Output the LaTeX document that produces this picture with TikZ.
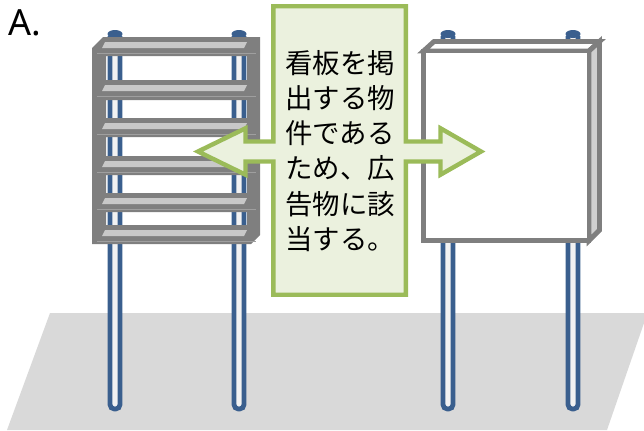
\documentclass[tikz,border=0pt]{standalone}
\usepackage{fontspec}
\newfontfamily\jpfont{Noto Sans CJK JP}
\newfontfamily\labelfont{Noto Sans}
\definecolor{postblue}{HTML}{3A5F8E}
\definecolor{postwhite}{HTML}{F2F2F2}
\definecolor{boardgray}{HTML}{7F7F7F}
\definecolor{slatgray}{HTML}{C8C8C8}
\definecolor{sidegray}{HTML}{D0D0D0}
\definecolor{groundgray}{HTML}{D9D9D9}
\definecolor{calloutgreen}{HTML}{9BBB59}
\definecolor{calloutfill}{HTML}{EBF1DE}
\begin{document}
\begin{tikzpicture}[x=0.02cm,y=-0.02cm,
    post/.style={draw=postblue,line width=2.7pt,fill=postwhite,rounded corners=2.5pt},
    box/.style={draw=boardgray,line width=2.8pt,fill=#1},
    callout/.style={draw=calloutgreen,line width=2.5pt,fill=calloutfill,line join=miter}]
  \useasboundingbox (0,0) rectangle (644,430);
  % ground
  \fill[groundgray] (7,430) -- (50,313) -- (644,313) -- (644,323) -- (607,430) -- cycle;
  % posts with their caps
  \foreach \px in {115,239,448,573}{
    \draw[post] (\px-5,36) -- (\px-5,409) -- (\px+5,409) -- (\px+5,36);
    \fill[postblue] (\px,34) ellipse (7.5 and 4);
  }
  % louvred board, the gaps show the posts behind
  \fill[boardgray,even odd rule] (92,48) -- (103,37) -- (260,37) -- (260,235) -- (251,244) -- (92,244) -- cycle
    (106,56) rectangle (247,80) (106,100) rectangle (247,118) (106,137) rectangle (247,156)
    (106,175) rectangle (247,193) (106,212) rectangle (247,225);
  \foreach \t in {37,80,118,156,193,225}{
    \fill[slatgray] (102,\t+11) -- (105,\t+5) -- (247,\t+5) -- (244,\t+11) -- cycle;
    \draw[gray!75,line width=0.6pt] (97,\t+16.5) -- (256,\t+16.5);
  }
  % plain board
  \draw[box=white] (423.5,51) -- (434,41.5) -- (599.5,41.5) -- (589,51) -- cycle;
  \draw[box=sidegray] (589,51) -- (599.5,41.5) -- (599.5,230) -- (589,240.5) -- cycle;
  \draw[box=white] (423.5,51) rectangle (589,240.5);
  % callout with arrows both ways
  \draw[callout] (273.3,6.3) -- (405.8,6.3) -- (405.8,141.5) -- (440.5,141.5) -- (440.5,128.3)
    -- (481,151.5) -- (440.5,174.7) -- (440.5,161.5) -- (405.8,161.5) -- (405.8,294.7)
    -- (273.3,294.7) -- (273.3,161.5) -- (245.5,161.5) -- (245.5,174.7) -- (198,151.5)
    -- (245.5,128.3) -- (245.5,141.5) -- (273.3,141.5) -- cycle;
  \node[font=\jpfont\fontsize{15.6}{20}\selectfont,align=center] (note) at (340,151)
    {看板を掲\\出する物\\件である\\ため、広\\告物に該\\当する。};
  \node[font=\labelfont\fontsize{20.5}{24}\selectfont,anchor=base west,inner sep=0] (label) at (8,35) {A.};
\end{tikzpicture}
\end{document}
